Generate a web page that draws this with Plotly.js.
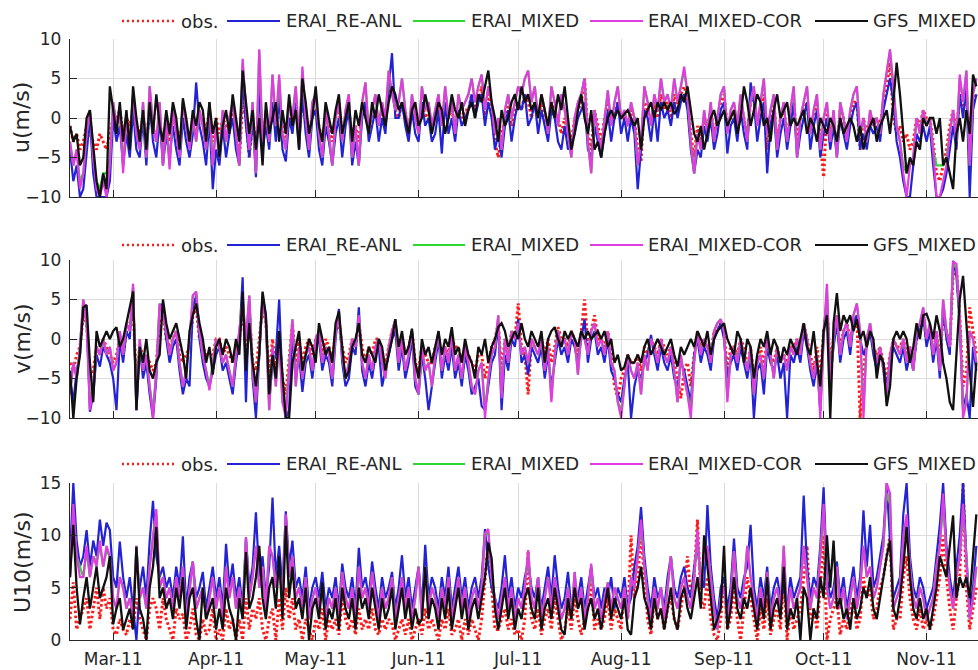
<!DOCTYPE html>
<html>
<head>
<meta charset="utf-8">
<script src="https://cdn.plot.ly/plotly-3.0.1.min.js"></script>
<style>
  html, body { margin: 0; padding: 0; background: #ffffff; }
  #chart { width: 978px; height: 670px; }
</style>
</head>
<body>
<div id="chart"></div>
<script>
// Daily series, one value per day starting 16 Feb 2011.
const startDay = '2011-02-16';

const seriesNames = ['obs.', 'ERAI_RE-ANL', 'ERAI_MIXED', 'ERAI_MIXED-COR', 'GFS_MIXED'];
const axisTitles = ['u(m/s)', 'v(m/s)', 'U10(m/s)'];
const monthTickStart = '2011-03-01';

// ---- u component (m/s)
const uObs = [
  -1, -3, -2, -4, -3, -1, -2, -3, -4, -2,
  -3, -4, -2, 0, 0, 1, -2, 0, -1, 1,
  -1, -2, 0, -3, 1, -1, -3, 0, -4, -1,
  -3, 0, -1, -3, 0, -1, -3, -1, -2, 0,
  0, -2, 1, -3, 0, -2, 0, -1, -1, 1,
  -1, -5.5, 2, 0, -5, 0, -4, 3, -2, 0,
  -2, 2, -1, 2, -1, -3, 0, -1, 1, -2,
  2, 0, -3, 1, 1, -1, -3, 0, -1, -3,
  0, 1, -2, 0, 1, -3, -1, -3, 1, 2,
  -1, 0, 1, -1, 1, 0, 3, 4, 1, 0,
  2, 0, -1, 1, 0, -1, 2, 0, 1, -1,
  0, 2, -1, 2, 0, 1, -1, 1, 0, 1,
  1, 3, 1, 2, 4, 0, 3, 1, -3, -5,
  -2, 0, 2, -1, 1, 2, 1, 3, 2, 0,
  2, 0, 2, 0, -1, 2, 1, 0, -2, 0,
  -2, -3, 0, 1, 2, 5, -2, -4, 1, -1,
  -3, 0, 2, -1, 0, 2, 0, 0, -1, 1,
  0, -4, -5.5, 2, 1, -1, 2, 0, 3, 1,
  2, 0, 3, 1, 3, 4, 2, -2, -5, -1,
  -3, 0, -1, 1, -2, 0, 2, 3, -1, 0,
  1, -1, 2, 0, -2, 2, 3, -1, 1, 3,
  -4, 0, 2, -3, 0, 1, -2, 0, 2, -3,
  0, 1, 2, -2, 0, 2, -3, -7.5, 1, -2,
  0, -4, 1, 0, -3, 0, 2, 2, -4, 0,
  -2, 0, -1, 0, -1, 2, 4, 7, 0, -2,
  -1, -3, -2, -4, -3, 0, -1, 1, 0, 0,
  -3, -7, -8, -6, -4, -1, 1, -2, 3, 1,
  3, -3, 2, 3
];
const uReAnl = [
  -4, -8, -6, -10, -9, -4, 0, -7, -10, -10,
  -10, -10, -8, 0, -3, -1, -6, -2, -5, 1,
  -4, -5, 0, -6, 2, -3, -5, 0, -6, -2,
  -5, -1, -4, -6, 0, -3, -5, -2, 4.5, -1,
  -3, -6, 0, -9, -4, -6, -1, -5, -2, 0,
  -4, -6, 5, -1, -5, 0, -7.5, 4, -4, -1,
  -4, 2, -3, 3, -4, -5.5, 0, -2, 2, -4,
  3, -2, -5, 0, 1, -4, -6, -1, -3, -6,
  -2, 0, -5, -1, 1, -6, -3, -6, 0, 2,
  -3, -1, 1, -3, 0, -2, 4, 8.2, 0, 0,
  2, -1, -3, 1, -2, -3, 2, -1, 0, -3,
  -2, 1, -4.5, 2, -2, 0, -3, 1, -1, 0,
  1, 3, 0, 2, 3, -1, 2, 0, -4, -2,
  -5, -1, 1, -3, 0, 2, 1, 3, -1, 0,
  2, -2, 1, -1, -3, 1, 0, -3, -4, -1,
  -4, -3, -2, 0, 1, 2, -4, -5, -1, -3,
  -5, -2, 1, -3, 0, 2, -2, 0, -3, 0,
  -2, -9, -4, 1, 0, -3, 1, -3, 2, 0,
  1, -1, 2, 0, 2, 3, 1, -4, -7, -4,
  -5, -1, -3, 0, -4, -2, 1, 2, -4.5, -1,
  0, -3, 1, -2, -4, 4.5, 2, -3, 0, 2,
  -7, -1, 1, -5, -2, 0, -4, -1, 2, -5,
  -2, 0, 2, -4, -1, 1, -5, -2, 0, -4,
  -1, -5, 0, -2, -4, -1, 1, 2, -4, -2,
  -4, -1, -2, -1, -3, 1, 3, 5, 2, -3,
  -5, -8, -10, -10, -6, -2, -3, -1, -3, -1,
  -6, -10, -10, -9, -7, -4, -1, -4, 3, 0,
  4, -10, 1, 3
];
const uMixed = [
  -3, -6, -4, -8, -7, -2, 1, -5, -8, -9,
  -7, -7, -5, 2, -1, 1, -6, 0, -3, 3,
  -2, -4, 2, -5, 4, -1, -3, 2, -6, 0,
  -6, 1, -2, -5, 2, -1, -4, 0, -3, 1,
  -1, -4, 2, -6, -1, -5, 1, -3, 0, 2,
  -2, -6, 7, 1, -4, 2, -7, 8.5, -3, 1,
  -3, 5.5, -1, 5, -2, -4, 2, 0, 4, -3,
  6, 0, -4, 2, 3, -2, -5, 1, -2, -6,
  0, 2, -3, 1, 3, -5, -1, -6, 2, 4.5,
  -2, 1, 3, -1, 2, 0, 6, 3, 1, 2,
  5, 1, -2, 3, 0, -2, 4, 1, 2, -1,
  1, 3, -1, 4, 0, 2, -2, 3, 1, 2,
  3, 5, 2, 4, 5.5, 1, 4, 2, -2, 0,
  -4, 1, 3, 0, 2, 4, 3, 5, 6, 2,
  4, 0, 3, 1, -2, 4, 2, -1, 3, 1,
  -2, -5, 0, 2, 3, 5, -3, -7, 1, -2,
  -4, 0, 3.5, -1, 2, 4, 0, 1, -1, 2,
  0, -6, -3, 4, 2, -1, 3, 1, 5, 2,
  3, 1, 5, 2, 4, 6, 3, -3, -7, -2,
  -4, 1, -2, 2, -3, 0, 3, 4, -2, 1,
  2, -1, 3, 0, -3, 2, 4, -1, 2, 5,
  -2, 1, 3, -4, 0, 2, -3, 1, 4, -5,
  0, 2, 4, -2, 1, 3, -4, 0, 2, -3,
  1, -5, 2, 0, -3, 1, 3, 4, -2, 0,
  -3, 1, -1, 0, -2, 3, 6, 8.5, 4, -1,
  -3, -6, -7, -6, -5, 0, -2, 1, -1, 0,
  -4, -6, -6, -6, -5, -2, 1, -3, 5, 2,
  6, -6, 3, 5
];
const uMixedCor = [
  -3, -6, -4, -9, -7, -2, 1, -5, -9, -10,
  -8, -10, -6, 2, -1, 1, -7, 0, -3, 3,
  -2, -4, 2, -5, 4, -1, -3, 2, -6, 0,
  -6.5, 1, -2, -5, 2, -1, -4, 0, -3, 1,
  -1, -4, 2, -6, -1, -5, 1, -3, 0, 2,
  -2, -6, 7.5, 1, -4, 2, -7, 8.7, -3, 1,
  -3, 5.5, -1, 5.5, -2, -4, 2, 0, 4, -3,
  6.5, 0, -4, 2, 3, -2, -5, 1, -2, -6,
  0, 2, -3, 1, 3, -5, -1, -6, 2, 4.5,
  -2, 1, 3, -1, 2, 0, 6, 3, 1, 2,
  5, 1, -2, 3, 0, -2, 4, 1, 2, -1,
  1, 3, -1, 4, 0, 2, -2, 3, 1, 2,
  3, 5, 2, 4, 5.5, 1, 4, 2, -2, 0,
  -4, 1, 3, 0, 2, 4, 3, 5, 6, 2,
  4, 0, 3, 1, -2, 4, 2, -1, 3, 1,
  -2, -5, 0, 2, 3, 5, -3, -7, 1, -2,
  -4, 0, 3.5, -1, 2, 4, 0, 1, -1, 2,
  0, -6, -3, 4, 2, -1, 3, 1, 5, 2,
  3, 1, 5, 2, 4, 6.5, 3, -3, -7, -2,
  -4, 1, -2, 2, -3, 0, 3, 4, -2, 1,
  2, -1, 3, 0, -3, 2, 4, -1, 2, 5,
  -2, 1, 3, -4, 0, 2, -3, 1, 4, -5,
  0, 2, 4, -2, 1, 3, -4, 0, 2, -3,
  1, -5, 2, 0, -3, 1, 3, 4, -2, 0,
  -3, 1, -1, 0, -2, 3, 6, 8.7, 4, -1,
  -3, -7, -10, -6, -5, 0, -2, 1, -1, 0,
  -4, -10, -10, -8, -6, -2, 1, -3, 5.5, 2,
  6, -6, 3, 5
];
const uGfs = [
  -1, -3, -2, -6, -5, 0, 1, -4, -8, -10,
  -7, -9, 4, 1, -2, 2, -3, 1, -4, 4,
  0, -3, 1, -4, 2, -2, 3, -1, -3, 1,
  -2, 2, 0, -4, 2.5, 0, -3, 1, -1, 2,
  1, -3, 2, -2, 0, -5, -1, 1, -2, 3,
  0, -3, 6, 2, -2, 1, -4, 0, -6, 2,
  -2, 0, 2, -3, 1, -2, 3, -1, 1, -4,
  5, 2, -2, 0, 4, -1, -3, 2, 0, -2,
  1, 3, -2, 0, 2, -3, 1, -1, 2, 0,
  -2, 2, 0, 3, 1, -1, 2, 4, 3, 1,
  2, 0, -2, 1, 2, -1, 0, 3, 1, -2,
  0, 2, 1, -2, 0, 3, 1, 0, 2, -1,
  1, 2, 0, 3, 2, 4, 6, 2, 0, -3,
  1, -1, 0, 2, 3, 1, 4, 2, 3, 1,
  2, 0, 3, 1, -1, 2, 0, 3, 1, 4,
  0, -4, -2, 1, 3, 0, -2, 1, -4, -3,
  -5, -2, 0, 1, 0, 1, 0, 0.5, 1, 0,
  -1, 0, -4, 0, 1, 2, 0, 2, 1, 2,
  1, 2, 0.5, 1, 3, 2, 4, 1, -2, -3,
  -1, -4, -2, 0, 1, -1, 0, 1, -1, 0,
  1, -2, 0, 4, 2, -1, 1, 3, 2, -1,
  0, -3, 1, 3, 0, 1, 2, -1, 0, -1,
  0, 1, -2, 0, -1, -3, 0, -1, -2, 0,
  -1, -3, 0, -2, -1, 0, -1, -3, -1, -4,
  -2, -1, 0, -3, -1, 0, 1, -2, 2, 7,
  3, -2, -7, -5, -6, -3, -4, 0, -1, 0,
  0, -2, 0, -6, -5, -7, -9, -2, 0, -3,
  1, -2, 5.5, 4
];

// ---- v component (m/s)
const vObs = [
  -3, -4, -2, -1, 3, 2, -5, -4, -1, -2,
  0, -1, -2, -3, -2, 0, -2, 1, 2, 3.5,
  -5, -1, -2, -2, -3, -4, -3, 2, 3, 0,
  -1, 0, 1, -2, -3, -2, -1, 3, 4, 0,
  -1, -2, -1.5, -2, 0, 0, -2, -1, -2, -3,
  -1, 0, 4, -2, 4, -3, -4, 0, 4, 2,
  -5, 0, -4, 0, -5, -7, -2, 2, -3, 0,
  -3, -1, 0, -2, 0, 1, -2, 0, -1, -3,
  1, 2, -1, -3, -2, 0, -1, 2, -1, -3,
  -1, -2, 0, 0, -2, -3, -1, 1, 2, -2,
  0, -2, -1, 1, -3, -4, -1, -2, -3, -3,
  -1, 0, -2, -1, -2, 0, -1, -1, -3, -1,
  -2, -3, -4, -2, -2, -5, -3, -1, 0, 2,
  -4, 0, -2, 1, 0, 4.5, -1, -2, -7, 0,
  -1, -1, 0, -2, 0, -3, -1, 1.5, 0, 0,
  -1, 1, 0, -2, 1, 5, -1, 1, 3, 0,
  0, -1, 1, -2, -5.9, -7.5, -5, -4, -2, -3,
  -3, -2, -4, -1, -2, 0, -1, -2, 0, -1,
  -2, -1, -3, -5, -7.5, -4, -3, -6, -2, 1,
  -1, 0, -1, -2, 1, 1, 2, 1, -4, -1,
  -1, -2, 0, -1, -4, -1, -5, -3, -1, -3.5,
  0, -2, -3, -1, -3, -2, -3, -1, -1, 0,
  -1, 2, 0, -2, -4, -1, -5, 1, 4, -3,
  0, 2, -1, 1, 2, 0, 2, 3, -10, -4,
  0, 1, -1, -2, -1, -3, -5, -2, 0, -1,
  -1, 0, -2, -1, -3, 0, 1, 3, 0, 1,
  -2, 1, -3, 3, 1, -1, 8, 9, 3, -6,
  -4, 4, 1, -2
];
const vReAnl = [
  -5, -8, -4, -2, 4.5, 3, -9.2, -7, -2, -3.5,
  -1, -2, -3, -5, -9, 0, -3, 1, 0, 6.5,
  -9, -1, -5, -3, -7, -10, -5, 4, 4.5, 0,
  -3, -1, 0, -4, -7, -5, -6, 4, 5.5, 0,
  -3, -5, -6, -4, -2, -1, -4, -3, -5, -7,
  -3, 0, 7.8, -8, 5, -5, -10, -2, 5.5, 3,
  -8, -3, -2, 5, -6, -10, -9, 1, -5, -2,
  -6.7, -3, -2, -5, -1, 0, -4, -2, -3, -6,
  0, 3.8, -3, -6, -5, -1, -2, 4, -4, -6,
  -3, -5, -2, -1, -6, -4, -2, 0, 1, -4,
  -1, -5, -3, 0, -6, -7, -2, -5, -9, -6,
  -3, 0, -5, -2, -4, -1, -5, -3, -6, -2,
  -4, -7, -6, -5, -8.5, -9, -6, -3, -2, 2,
  -9, -2, -4, 0, -1, 2.5, -3, -2, -4.5, -1,
  -2, -3, -1, -5, -2, -6, -3, 0, -2, -1,
  -3, 0, -1, -3, 0, 2.5, -3, 0, 1, -2,
  -1, -3, 0, -4, -5, -7, -8, -5, -3, -10,
  -6, -4, -5, -3, -2, 0.5, -2, -4, -1, -3,
  -4, -2, -5, -6, -3, -4, -6, -8, -2, 0,
  -3, -1, -2, -4, 0, 1, 2, 0, -5, -3,
  -2, -4, -1, -3, -5, -2, -10, -4, -3, -7,
  -1, -3, -4, -2, -5, -3, -10, -2, -3, -1,
  -3, 1, -1, -4, -6, -3, -9, 1, 5, -5,
  -1, 2, -3, 0, 1, -2, 2, 3, 0, -2,
  -1, 1, -2, -4, -2, -3, -6, -3, -1, -2,
  -3, -1, -4, -2, -4, 0, 1, 3, -1, 1,
  -3, 0, -5, 4, 0, -2, 9.9, 8, 2, -9,
  -7, -10, -1, -4
];
const vMixed = [
  -7, -3, -5, -1, 5, 2, -8, -6, -1, -2,
  0, -2, -1, -4, -3, 1, -2, 2, 1, 6.5,
  -8, 0, -4, -2, -6, -9, -4, 4.5, 3, 1,
  -2, 0, 1, -3, -6, -4, 0, 5.5, 6, 1,
  -2, -4, -6, -3, 0, -1, -3, -2, -4, -6,
  -2, 1, 5, 0, 5.5, -4, -8, -1, 5, 2,
  -9, -1, -6, 0, -8, -9, -3, 2.5, -6, -1,
  -5, -2, -1, -4, 0, 1, -3, -1, -2, -5,
  1, 3, -2, -5, -3, 0, -1, 3, -3, -5,
  -2, -4, -1, 0, -3, -5, -1, 1, 2.5, -3,
  0, -4, -2, 1, -5, -7, -1, -4, -3, -6,
  -2, 1, -4, -1, -3, 0.5, -4, -2, -5, -1,
  -3, -6, -7, -4, -3, -9, -5, -2, -1, 3,
  -7, 0, -3, 1, 0, 2, -2, -1, -3, 0,
  -1, -2, 0, -4, -1, -7.5, -2, 1, -1, 0,
  -2, 1, 0, -4.5, 1, 0, -2, 1, 2, -1,
  0, -2, 1, -3, -4, -8, -9, -6, -2, -4,
  -5, -3, -7, -2, -4, 0, -1, -3, 0, -2,
  -3, -1, -4, -8, -2, -5, -7, -9, -3, 1,
  -2, 0, -1, -3, 1, 2, 2.5, 1, -7.5, -2,
  -1, -3, 0, -2, -4, -1, -7, -3, -2, -5,
  0, -2, -5, -1, -3, -2, -4, -1, -2, 0,
  -2, 2, 0, -3, -5, -2, -9, 0, 6.5, -6,
  0, 3, -2, 1, 2, -1, 3, 4.5, 1, -9,
  0, 2, -1, -3, -1, -4, -8, -2, 0, -1,
  -2, 0, -3, -1, -4, 1, 2, 4, 0, 2,
  -2, 1, -4, 5, 1, -1, 9.5, 9, 3, -9,
  -8, 1, 0, -3
];
const vMixedCor = [
  -7, -3, -5, -1, 5, 2, -9, -6, -1, -2,
  0, -2, -1, -4, -3, 1, -2, 2, 1, 7,
  -9, 0, -4, -2, -6, -10, -4, 4.5, 3, 1,
  -2, 0, 1, -3, -6, -4, 0, 5.5, 6, 1,
  -2, -4, -6.5, -3, 0, -1, -3, -2, -4, -6,
  -2, 1, 5, 0, 5.5, -4, -8, -1, 5, 2,
  -9, -1, -6, 0, -8, -10, -3, 2.5, -6, -1,
  -5, -2, -1, -4, 0, 1, -3, -1, -2, -5,
  1, 3, -2, -5, -3, 0, -1, 3, -3, -5,
  -2, -4, -1, 0, -3, -5, -1, 1, 2.5, -3,
  0, -4, -2, 1, -5, -7, -1, -4, -3, -6,
  -2, 1, -4, -1, -3, 0.5, -4, -2, -5, -1,
  -3, -6, -7, -4, -3, -10, -5, -2, -1, 3,
  -7.5, 0, -3, 1, 0, 2, -2, -1, -3, 0,
  -1, -2, 0, -4, -1, -8, -2, 1, -1, 0,
  -2, 1, 0, -4.5, 1, 0, -2, 1, 2, -1,
  0, -2, 1, -3, -4, -8, -10, -6, -2, -4,
  -5, -3, -7, -2, -4, 0, -1, -3, 0, -2,
  -3, -1, -4, -8, -2, -5, -7, -10, -3, 1,
  -2, 0, -1, -3, 1, 2, 2.5, 1, -8, -2,
  -1, -3, 0, -2, -4, -1, -7, -3, -2, -5,
  0, -2, -5, -1, -3, -2, -4, -1, -2, 0,
  -2, 2, 0, -3, -5, -2, -10, 0, 7, -6,
  0, 3, -2, 1, 2, -1, 3, 4.5, 1, -10,
  0, 2, -1, -3, -1, -4, -7, -2, 0, -1,
  -2, 0, -3, -1, -4, 1, 2, 4, 0, 2,
  -2, 1, -4, 5, 1, -1, 9.8, 9.5, 3, -10,
  -8, 1, 0, -3
];
const vGfs = [
  -4, -10, -5, -2, 4, 4.3, -3, -8, 1, -1,
  0, 1, 0, 1, 1.5, -1, 0, 2, 4, 6,
  -9, -1, -3, 0, -4, -5, -3, -2, 5, 2,
  0, 1, 2, 0, -2, -5, 1, 3, 4.5, 2,
  0, -3, -1, -4.5, -1, 0, -2, 0, -1, -3,
  0, -2, 6, -4, 2, -3, -6, -2, 6, 3,
  -7, -2, -5, 1, -4, -10, -10, -3, -1, 1,
  -4, -2, 0, -1, -3, 2, 0, -2, -1, -3,
  2, 3.5, -1, -5, -4, -1, 0, 2, -2, -3,
  -1, -2, -3, 0, -1, -4, -2, 0, 2.5, -1,
  1, -2, -1, 1.3, -3, -5, 0, -2, -1, -3,
  -1, 1, -2, 0, -1, 1.5, -2, -1, -3, 0,
  -2, -3, -5, -1, -2, 0, -3, -1, 0, 1.5,
  2, 1, -1, 0, 1, 0, 2, 0, -1, 1,
  0, -1, 1, -3, 0, 1, 1.5, 0, -1, 1,
  0, 1, 0, -1, 1, 0, 1, 0, 0.5, 1,
  0, 1, -1, 0, -3, -2, -4, -3.5, -2, -3,
  -3, -2, -3, -1, 0, -2, -1, 0, -1, -2,
  -1, 0, -2, -3.5, -1, -2, -1, 0, -1, 1,
  0, -1, 1, -2, 0, 1, 1.5, 2, 0, -1,
  -2, 1, 0, -3, 0, -1, -5, -2, 0, -1,
  1, -2, 0, -1, -3, -1, -2, 0, -1, -2,
  0, 2, -1, -2, 1, -3, -6, 1, 3, -10,
  2, 5.8, 1, 3, 2, 3, 1, 2.5, 0, 1,
  -1, 1, 0, -5, -2, -3, -8.5, -6, 0, 1,
  0, 1, 0, -3, -1, 2, 0, 3, 3.2, 2,
  0, 3, 1, -3, -5, -8, -9, -2, 5, 8,
  2, -4, -8.6, -3
];

// ---- 10 m wind speed (m/s)
const spdObs = [
  2, 5.5, 1, 2, 3, 4, 1, 3, 5, 2,
  5, 3, 4, 1, 0.5, 2, 1, 0.5, 2, 1,
  4, 2, 1, 0, 3, 4, 3, 1, 4, 2,
  1, 0, 3, 2, 2.5, 0, 1, 3, 0.5, 0,
  2, 0.5, 1, 3, 0, 1, 0, 3, 1, 2,
  0, 2, 0, 4, 1, 3, 2, 4, 1, 0,
  2, 3, 0, 4, 1, 5, 2, 4, 1, 2,
  0, 2, 1, 0, 2, 1, 3, 0, 2, 1,
  2, 0.5, 4.1, 2, 1, 2, 0.5, 3, 1, 2,
  1, 3, 1, 0.5, 2, 1, 2, 1.5, 0, 1,
  2, 0.5, 2, 0, 1, 2, 0.5, 3, 1, 2,
  1, 0, 2, 1, 3, 0.5, 1, 2, 0, 2,
  0.5, 2, 1, 0, 2, 6, 9.5, 5, 1, 1,
  2, 3, 1, 2, 0.5, 1, 0, 2, 8.5, 2,
  1, 3, 0.5, 2, 3, 1, 4, 2, 0, 1,
  3, 1, 4, 2, 0.5, 2, 3, 5.5, 1, 2,
  1, 2, 4, 1, 3, 2, 1, 5, 2, 10,
  4, 6, 10, 6, 2, 0.5, 4, 2, 3, 1,
  3, 4, 2, 1, 3, 5, 8, 4, 6, 11.5,
  4, 3, 6, 2, 0.5, 0, 2, 6, 1, 2,
  5, 2, 0, 3, 6, 4, 2, 0, 3, 1,
  4, 0.5, 2, 3, 1, 6, 0, 3, 1, 2,
  3, 6, 9, 2, 3, 1, 5, 10, 0, 2,
  3, 4, 0.5, 2, 1, 3, 4, 1, 2, 6,
  4, 5, 2, 3, 5, 6, 8, 10, 1, 2,
  2, 6, 8, 4, 2, 1, 3, 1, 2, 1,
  2, 4, 6, 10, 6, 3, 1, 4, 6, 15,
  5, 1, 3, 5
];
const spdReAnl = [
  8, 15, 9.5, 7, 8, 10.5, 7, 9.5, 8, 11.5,
  9, 11.2, 10.5, 6, 5, 9.4, 6, 4, 6, 3,
  0, 5, 7, 4, 9.5, 13.3, 8, 6, 7, 5,
  6, 4, 7, 5, 9.9, 3, 6, 7.5, 4, 5,
  6.5, 3, 5, 7, 4, 6, 3, 9.2, 5, 7.3,
  4, 6, 3, 9.8, 5, 7, 12.2, 6, 8, 4,
  7, 13.6, 6, 9, 5, 12.3, 7, 9.5, 5, 6,
  4, 7, 3, 5, 6, 4, 6.5, 3, 5, 4,
  6, 3, 7.3, 5, 4, 6, 3, 8.8, 5, 6,
  4, 7.5, 5, 3, 6, 4, 5, 6.5, 3, 5,
  8.1, 4, 6, 3, 5, 7, 3, 9.1, 4, 6,
  5, 3, 6, 4, 7, 3, 5, 7, 4, 6,
  3, 5, 6, 4, 6, 10.6, 7, 5, 4, 3,
  5, 8.1, 4, 6, 3, 5, 4, 6, 7.5, 5,
  4, 6, 3, 5, 7, 4, 8.1, 5, 3, 4,
  6.5, 3, 5, 4, 6, 3, 5, 7, 4, 5,
  3, 5, 4, 6, 3, 5, 4, 6, 3, 4,
  7, 9, 12.7, 8, 5, 3, 6, 4, 5, 3,
  6, 8, 5, 4, 6, 7, 5, 4, 7, 9,
  6, 5, 12.9, 7, 4, 2, 5, 6, 3, 5,
  9.7, 5, 4, 6, 7, 11, 5, 3, 6, 4,
  7, 3, 5, 6, 4, 5, 3, 6, 4, 5,
  6, 13.8, 7, 4, 6, 5, 9, 14.6, 6, 4,
  5, 7.5, 4, 6, 3, 5, 7, 4, 6, 12.4,
  7, 11, 5, 6, 8, 10, 15, 9, 4, 5,
  6, 12, 15, 8, 5, 4, 6, 5, 3, 4,
  5, 8, 11, 15, 9, 6, 4, 7, 10, 15,
  8, 3, 5, 9
];
const spdMixed = [
  6, 12, 8, 7, 6, 8.5, 6, 8, 7.5, 9,
  7, 8.5, 8, 4, 3, 6, 5, 3, 4, 2,
  9, 4, 5, 3, 7, 10, 12, 5, 6, 4,
  5, 3, 6, 4, 7, 2, 5, 7.5, 3, 4,
  5, 2, 4, 6, 3, 5, 2, 7, 4, 6,
  3, 5, 2, 9.5, 4, 6, 9, 5, 7, 3,
  9, 8, 5, 7, 4, 11.5, 6, 8, 4, 5,
  3, 6, 2, 4, 5, 3, 5, 2, 4, 3,
  5, 2, 6.5, 4, 3, 5, 2, 7, 4, 5,
  3, 6.5, 4, 2, 5, 3, 4, 6, 2, 4,
  6, 3, 5, 2, 4, 7, 2, 7, 3, 5,
  4, 2, 5, 3, 6, 2, 4, 6, 3, 5,
  2, 4, 5, 3, 5, 10, 10.3, 6, 4, 2,
  4, 6, 3, 5, 2, 4, 3, 5, 8.3, 4,
  3, 6, 2, 4, 6, 3, 6, 4, 2, 3,
  5, 2, 6.5, 3, 5, 2, 4, 7, 3, 4,
  2, 4, 5.5, 3, 5, 4, 3, 5, 2, 6,
  5, 8, 11, 7, 4, 2, 5, 3, 5, 2,
  5, 8, 4, 3, 5, 6, 4, 3, 6, 10,
  5, 8, 9, 6, 3, 1, 4, 5, 2, 4,
  8.5, 4, 3, 5, 9, 6, 4, 2, 5, 3,
  6.5, 2, 4, 5, 3, 9, 2, 5, 3, 4,
  5, 9, 6, 3, 5, 4, 8, 12.5, 5, 3,
  4, 7, 3, 5, 2, 4, 6, 3, 5, 9,
  6, 7, 4, 5, 7, 9, 14, 13, 3, 4,
  5, 9.5, 11, 7, 4, 3, 5, 4, 2, 3,
  4, 7, 9, 13, 8, 5, 3, 6, 8, 12.5,
  8, 2, 4, 7
];
const spdMixedCor = [
  6, 13, 8, 6, 6, 9, 6, 8, 7, 9.5,
  7, 9, 8, 4, 3, 6, 5, 3, 4, 2,
  9, 4, 5, 3, 7, 10, 12.5, 5, 6, 4,
  5, 3, 6, 4, 7, 2, 5, 7.5, 3, 4,
  5, 2, 4, 6, 3, 5, 2, 7, 4, 6,
  3, 5, 2, 9.8, 4, 6, 9, 5, 7, 3,
  9, 8, 5, 7, 4, 12, 6, 8, 4, 5,
  3, 6, 2, 4, 5, 3, 5, 2, 4, 3,
  5, 2, 6.5, 4, 3, 5, 2, 7, 4, 5,
  3, 6.5, 4, 2, 5, 3, 4, 6, 2, 4,
  6, 3, 5, 2, 4, 7, 2, 7, 3, 5,
  4, 2, 5, 3, 6, 2, 4, 6, 3, 5,
  2, 4, 5, 3, 5, 10.2, 10.6, 6, 4, 2,
  4, 6, 3, 5, 2, 4, 3, 5, 8.6, 4,
  3, 6, 2, 4, 6, 3, 6, 4, 2, 3,
  5, 2, 6.5, 3, 5, 2, 4, 7.3, 3, 4,
  2, 4, 5.5, 3, 5, 4, 3, 5, 2, 6,
  5, 8, 11.5, 7, 4, 2, 5, 3, 5, 2,
  5, 8, 4, 3, 5, 6, 4, 3, 6, 10.5,
  5, 8, 9, 6, 3, 1, 4, 5, 2, 4,
  8.5, 4, 3, 5, 9, 6, 4, 2, 5, 3,
  6.5, 2, 4, 5, 3, 9, 2, 5, 3, 4,
  5, 9, 6, 3, 5, 4, 8, 13, 5, 3,
  4, 7, 3, 5, 2, 4, 6, 3, 5, 9,
  6, 7, 4, 5, 7, 9, 15, 14, 3, 4,
  5, 10, 12, 7, 4, 3, 5, 4, 2, 3,
  4, 7, 9, 14, 8, 5, 3, 6, 8, 13,
  8, 2, 4, 7
];
const spdGfs = [
  6, 11, 5, 1.5, 4, 6, 3, 5, 7, 4,
  5, 6, 8, 1.5, 3, 4, 1, 2, 3, 1,
  8.9, 3, 2, 0, 5, 7, 10.8, 4, 5, 3,
  4, 2, 5, 3, 6, 1, 4, 5, 2, 0,
  5, 2, 3, 4, 1, 3, 1, 5, 3, 2,
  0, 4, 2, 8.4, 3, 4, 6, 9, 4, 2,
  5, 6, 3, 8, 2, 10.9, 4, 7, 3, 4,
  2, 5, 0, 3, 4, 2, 5.5, 1, 3, 2,
  4, 1, 5, 3, 2, 4, 1, 5, 3, 4,
  2, 5, 3, 1, 4, 2, 3, 5, 1, 3,
  5, 2, 4, 1, 3, 1.5, 2, 7, 2, 4,
  3, 1, 4, 2, 5, 1, 3, 5, 2, 4,
  1, 3, 4, 2, 4, 6, 9.3, 7.8, 3, 1,
  3, 5, 2, 4, 1, 3, 2, 4, 5, 3,
  2, 5, 1, 3, 4, 2, 5, 3, 1, 0.5,
  4, 2, 5, 3, 4, 1, 3, 4, 2, 3,
  1, 3, 5, 2, 4, 3, 2, 4, 1, 0.5,
  4, 5, 7, 4, 3, 1, 4, 2, 3, 1,
  3, 5, 2, 1, 4, 5, 3, 2, 4, 6,
  3, 10, 7, 4, 1, 2, 3, 9, 1, 3,
  6, 3, 2, 4, 3, 5, 3, 1, 4, 2,
  6, 1, 3, 4, 2, 7, 1, 3, 2, 4,
  0, 5, 4, 0, 3, 2, 6, 4, 10, 5,
  9.5, 3, 4, 2, 3, 1, 4, 2, 3, 5,
  4, 6, 3, 2, 4, 6, 8, 9.5, 3, 2,
  4, 7, 10.8, 6, 3, 2, 4, 2, 3, 1,
  3, 5, 8, 7, 6, 9, 11.9, 4, 6, 5,
  6, 4, 8, 12
];

// ---- drawing
const seriesStyle = [
  { color: '#ff1a1a', width: 3, dash: '2.5px,2.5px' },
  { color: '#2323d4', width: 2.2, dash: 'solid' },
  { color: '#2fd62f', width: 2.2, dash: 'solid' },
  { color: '#e03ce0', width: 2.2, dash: 'solid' },
  { color: '#111111', width: 2.3, dash: 'solid' }
];
const legendLineWidth = [2.6, 1.9, 1.9, 1.9, 1.9];

const panelData = [
  [uObs, uReAnl, uMixed, uMixedCor, uGfs],
  [vObs, vReAnl, vMixed, vMixedCor, vGfs],
  [spdObs, spdReAnl, spdMixed, spdMixedCor, spdGfs]
];

function dayDates(n) {
  const t0 = Date.parse(startDay + 'T00:00:00Z');
  const out = [];
  for (let i = 0; i < n; i++) {
    out.push(new Date(t0 + i * 86400000).toISOString().slice(0, 10));
  }
  return out;
}

const traces = [];
panelData.forEach((set, p) => {
  const suffix = p === 0 ? '' : String(p + 1);
  set.forEach((vals, s) => {
    traces.push({
      type: 'scatter',
      mode: 'lines',
      name: seriesNames[s],
      x: dayDates(vals.length),
      y: vals,
      xaxis: 'x' + suffix,
      yaxis: 'y' + suffix,
      showlegend: false,
      line: { color: seriesStyle[s].color, width: seriesStyle[s].width, dash: seriesStyle[s].dash }
    });
  });
});

// pixel helpers for the 978 x 670 canvas (plot area 70..978 x 0..640)
const PL = 70, PW = 908, PH = 640;
const px = v => (v - PL) / PW;
const py = v => (PH - v) / PH;

const ink = '#262626';
const grid = '#dcdcdc';
const xRange = ['2011-02-16', '2011-11-16 12:00'];

function xAxis(showLabels, anchor) {
  return {
    type: 'date', range: xRange, anchor: anchor,
    tick0: monthTickStart, dtick: 'M1', tickformat: '%b-%y',
    showticklabels: showLabels,
    ticks: 'inside', ticklen: 7, tickwidth: 1, tickcolor: ink,
    showgrid: true, gridcolor: grid, gridwidth: 1,
    showline: true, linecolor: ink, linewidth: 1.3,
    zeroline: false,
    tickfont: { family: 'DejaVu Sans', size: 17, color: ink },
    ticklabelstandoff: 3
  };
}
function yAxis(domain, range, vals, anchor) {
  return {
    domain: domain, range: range, anchor: anchor,
    tickvals: vals, ticks: 'inside', ticklen: 7, tickwidth: 1, tickcolor: ink,
    showgrid: true, gridcolor: grid, gridwidth: 1,
    showline: true, linecolor: ink, linewidth: 1.3,
    zeroline: false,
    tickfont: { family: 'DejaVu Sans', size: 17, color: ink },
    ticklabelstandoff: 4
  };
}

// panel frames in pixels: [top, bottom]
const panelPix = [[39, 197], [260, 418], [483, 640]];
const legendY = [21, 245, 464];
const titleY = [118, 339, 562];

// legend key positions: line start, line end, text start
const legendKeys = [
  [122, 177, 179],
  [227, 280, 284],
  [413, 465, 469],
  [590, 643, 646],
  [815, 868, 871]
];

const shapes = [];
const annotations = [];
panelPix.forEach((pp, p) => {
  legendKeys.forEach((k, s) => {
    shapes.push({
      type: 'line', xref: 'paper', yref: 'paper',
      x0: px(k[0]), x1: px(k[1]), y0: py(legendY[p]), y1: py(legendY[p]),
      line: { color: seriesStyle[s].color, width: legendLineWidth[s], dash: s === 0 ? '2px,3px' : 'solid' }
    });
    annotations.push({
      xref: 'paper', yref: 'paper', x: px(k[2]), y: py(legendY[p]),
      xanchor: 'left', yanchor: 'middle', showarrow: false,
      text: seriesNames[s],
      font: { family: 'DejaVu Sans', size: 18, color: ink }
    });
  });
  annotations.push({
    xref: 'paper', yref: 'paper', x: px(22), y: py(titleY[p]),
    xanchor: 'center', yanchor: 'middle', showarrow: false, textangle: -90,
    text: axisTitles[p],
    font: { family: 'DejaVu Sans', size: 22, color: ink }
  });
});

const dom = pp => [py(pp[1]), py(pp[0])];

const layout = {
  width: 978, height: 670,
  margin: { l: PL, r: 0, t: 0, b: 30, pad: 0 },
  paper_bgcolor: '#ffffff', plot_bgcolor: '#ffffff',
  font: { family: 'DejaVu Sans', color: ink },
  showlegend: false,
  xaxis: xAxis(false, 'y'),
  yaxis: yAxis(dom(panelPix[0]), [-10, 10], [-10, -5, 0, 5, 10], 'x'),
  xaxis2: xAxis(false, 'y2'),
  yaxis2: yAxis(dom(panelPix[1]), [-10, 10], [-10, -5, 0, 5, 10], 'x2'),
  xaxis3: xAxis(true, 'y3'),
  yaxis3: yAxis(dom(panelPix[2]), [0, 15], [0, 5, 10, 15], 'x3'),
  shapes: shapes,
  annotations: annotations
};

Plotly.newPlot('chart', traces, layout, { displayModeBar: false, staticPlot: true });
</script>
</body>
</html>
